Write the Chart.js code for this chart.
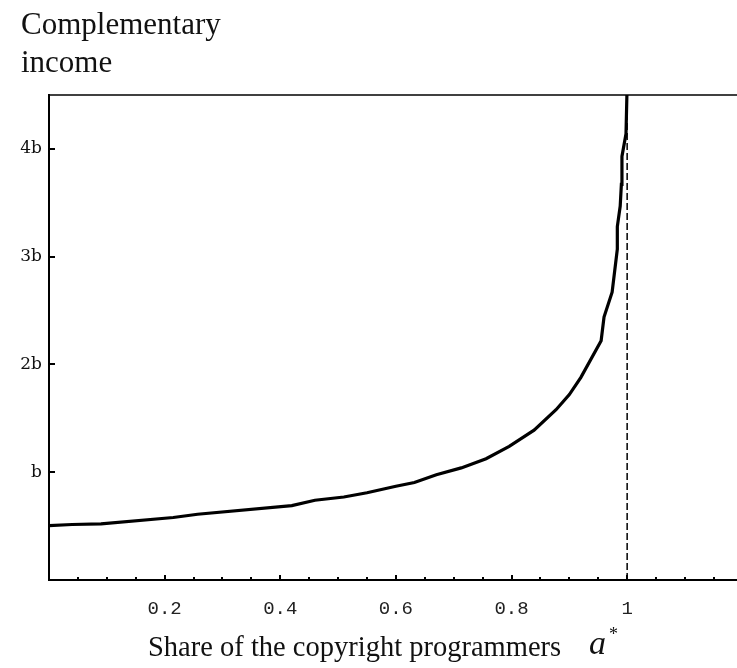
<!DOCTYPE html>
<html lang="en">
<head>
  <meta charset="UTF-8" />
  <title>Complementary income</title>
  <script src="https://cdn.jsdelivr.net/npm/chart.js"></script>
  <style>
    body {
      margin: 0;
      background: #fff;
    }
    #wrap {
      width: 737px;
      height: 668px;
    }
  </style>
</head>
<body>
  <div id="wrap">
    <canvas id="incomeChart" width="737" height="668"></canvas>
  </div>

  <script>
    // share of copyright programmers (x) and complementary income in units of b (y)
    const shareValues = [0, 0.04, 0.09, 0.215, 0.257, 0.42, 0.46, 0.51, 0.55, 0.6, 0.632, 0.67,
      0.713, 0.756, 0.796, 0.839, 0.877, 0.9, 0.92, 0.955, 0.96, 0.974, 0.983, 0.983,
      0.988, 0.99, 0.991, 0.998, 1.0];
    const incomeValues = [0.505, 0.515, 0.52, 0.58, 0.61, 0.69, 0.74, 0.77, 0.81, 0.87, 0.905, 0.977,
      1.04, 1.125, 1.24, 1.39, 1.58, 1.72, 1.88, 2.22, 2.44, 2.67, 3.07, 3.28,
      3.47, 3.67, 3.93, 4.14, 4.6];

    // vertical asymptote at a* = 1
    const asymptoteX = [1, 1];
    const asymptoteY = [0, 4.5];

    // ticks
    const xTickValues = [0.05, 0.1, 0.15, 0.2, 0.25, 0.3, 0.35, 0.4, 0.45, 0.5, 0.55, 0.6,
      0.65, 0.7, 0.75, 0.8, 0.85, 0.9, 0.95, 1, 1.05, 1.1, 1.15];
    const xLabelValues = [0.2, 0.4, 0.6, 0.8, 1];
    const xLabelTexts = ['0.2', '0.4', '0.6', '0.8', '1'];
    const yTickValues = [1, 2, 3, 4];
    const yTickLabels = ['b', '2b', '3b', '4b'];

    const near = (a, b) => Math.abs(a - b) < 1e-6;

    // frame on top, inward tick marks, axis titles
    const decor = {
      id: 'decor',
      afterDraw(chart) {
        const { ctx, chartArea: area, scales: { x, y } } = chart;
        ctx.save();
        ctx.strokeStyle = '#000';

        ctx.lineWidth = 1.5;
        ctx.beginPath();
        ctx.moveTo(area.left, area.top);
        ctx.lineTo(area.right, area.top);
        ctx.stroke();

        ctx.lineWidth = 2;
        xTickValues.forEach(v => {
          const px = Math.round(x.getPixelForValue(v));
          const major = xLabelValues.some(m => near(m, v));
          ctx.beginPath();
          ctx.moveTo(px, area.bottom);
          ctx.lineTo(px, area.bottom - (major ? 5 : 3));
          ctx.stroke();
        });
        yTickValues.forEach(v => {
          const py = Math.round(y.getPixelForValue(v));
          ctx.beginPath();
          ctx.moveTo(area.left, py);
          ctx.lineTo(area.left + 6, py);
          ctx.stroke();
        });

        ctx.fillStyle = '#111';
        ctx.textBaseline = 'alphabetic';
        ctx.textAlign = 'left';
        ctx.font = '31px "Liberation Serif"';
        ctx.fillText('Complementary', 21, 34);
        ctx.fillText('income', 21, 72);

        ctx.font = '28.5px "Liberation Serif"';
        ctx.fillText('Share of the copyright programmers', 148, 656);
        ctx.font = 'italic 34px "Liberation Serif"';
        ctx.fillText('a', 589, 654);
        ctx.font = '18px "Liberation Serif"';
        ctx.fillText('*', 609, 640);
        ctx.restore();
      }
    };

    const ctx = document.getElementById('incomeChart').getContext('2d');
    new Chart(ctx, {
      type: 'line',
      data: {
        datasets: [
          {
            data: shareValues.map((v, i) => ({ x: v, y: incomeValues[i] })),
            borderColor: '#000',
            borderWidth: 3.2,
            pointRadius: 0,
            tension: 0
          },
          {
            data: asymptoteX.map((v, i) => ({ x: v, y: asymptoteY[i] })),
            borderColor: '#000',
            borderWidth: 1.5,
            borderDash: [7, 3],
            pointRadius: 0
          }
        ]
      },
      options: {
        responsive: false,
        animation: false,
        events: [],
        layout: { padding: { top: 95, left: 0, right: 0, bottom: 0 } },
        plugins: {
          legend: { display: false },
          tooltip: { enabled: false }
        },
        scales: {
          x: {
            type: 'linear',
            min: 0,
            max: 1.19,
            afterBuildTicks: s => { s.ticks = xTickValues.map(v => ({ value: v })); },
            afterFit: s => { s.height = 88; },
            grid: { display: false, drawTicks: false },
            border: { display: true, color: '#000', width: 2 },
            ticks: {
              autoSkip: false,
              maxRotation: 0,
              padding: 18,
              color: '#222',
              font: { family: '"Liberation Mono"', size: 19 },
              callback: v => {
                const i = xLabelValues.findIndex(m => near(m, v));
                return i >= 0 ? xLabelTexts[i] : '';
              }
            }
          },
          y: {
            type: 'linear',
            min: 0,
            max: 4.5,
            afterBuildTicks: s => { s.ticks = yTickValues.map(v => ({ value: v })); },
            afterFit: s => { s.width = 49; },
            grid: { display: false, drawTicks: false },
            border: { display: true, color: '#000', width: 2 },
            ticks: {
              padding: 7,
              color: '#111',
              font: { family: '"DejaVu Serif"', size: 17 },
              callback: v => {
                const i = yTickValues.indexOf(v);
                return i >= 0 ? yTickLabels[i] : '';
              }
            }
          }
        }
      },
      plugins: [decor]
    });
  </script>
</body>
</html>
